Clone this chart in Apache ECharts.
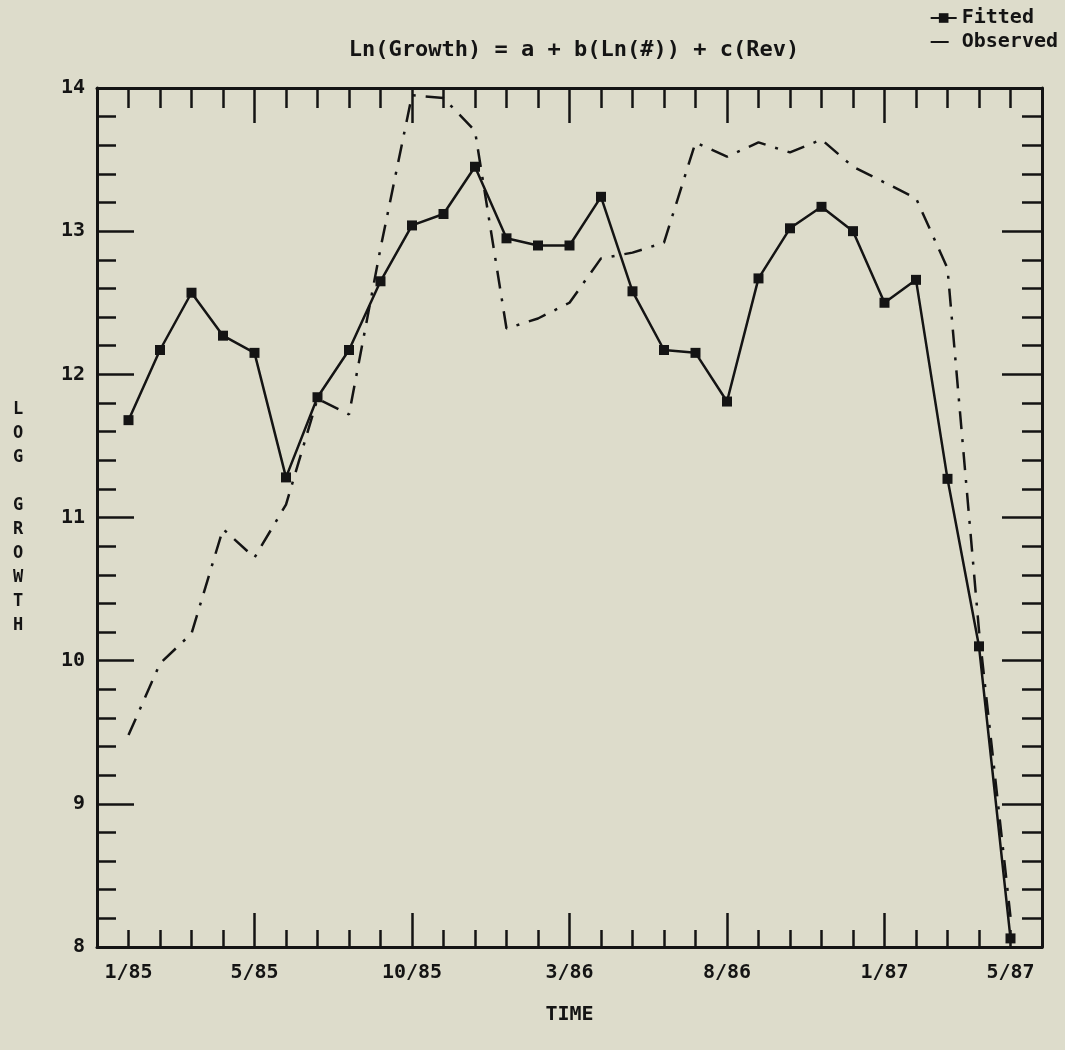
<!DOCTYPE html>
<html>
<head>
<meta charset="utf-8">
<script src="https://cdn.jsdelivr.net/npm/echarts@6/dist/echarts.min.js"></script>
<style>
html,body{margin:0;padding:0;background:#dddccb;}
#chart{width:1065px;height:1050px;}
</style>
</head>
<body>
<div id="chart"></div>
<script>
// Months (index 0 = 1/85 ... index 28 = 5/87)
const months = ['1/85','2/85','3/85','4/85','5/85','6/85','7/85','8/85','9/85','10/85','11/85','12/85',
                '1/86','2/86','3/86','4/86','5/86','6/86','7/86','8/86','9/86','10/86','11/86','12/86',
                '1/87','2/87','3/87','4/87','5/87'];
const tickLabels = ['1/85','5/85','10/85','3/86','8/86','1/87','5/87'];
const fitted = [11.68, 12.17, 12.57, 12.27, 12.15, 11.28, 11.84, 12.17, 12.65, 13.04, 13.12, 13.45,
                12.95, 12.90, 12.90, 13.24, 12.58, 12.17, 12.15, 11.81, 12.67, 13.02, 13.17, 13.00,
                12.50, 12.66, 11.27, 10.10, 8.06];
const observed = [9.48, 9.98, 10.19, 10.92, 10.72, 11.09, 11.83, 11.72, 12.88, 13.95, 13.93, 13.70,
                  12.32, 12.39, 12.50, 12.81, 12.85, 12.92, 13.62, 13.52, 13.62, 13.55, 13.64, 13.45,
                  13.34, 13.23, 12.74, 10.21, 8.21];
const titleText = 'Ln(Growth) = a + b(Ln(#)) + c(Rev)';
const yName = 'LOG GROWTH';
const xName = 'TIME';

const FONT = '"DejaVu Sans Mono", monospace';
const INK = '#141414';
const chart = echarts.init(document.getElementById('chart'), null, {renderer:'canvas'});

function xAx(pos, interval, len, showLine, showLabel) {
  return {
    type:'value', position:pos, min:-1, max:29, interval:interval,
    splitLine:{show:false},
    axisLine:{show:showLine, onZero:false, lineStyle:{color:INK, width:3}},
    axisTick:{show:true, inside:true, length:len, lineStyle:{color:INK, width:2.5}},
    axisLabel:{show:showLabel, margin:16, color:INK, fontFamily:FONT, fontWeight:'bold', fontSize:20,
      formatter:function(v){ const m = months[Math.round(v)]; return (m && tickLabels.indexOf(m) >= 0) ? m : ''; }},
    name: showLabel ? xName : '', nameLocation:'middle', nameGap:58,
    nameTextStyle:{color:INK, fontFamily:FONT, fontWeight:'bold', fontSize:20}
  };
}
function yAx(pos, interval, len, showLine, showLabel, withName) {
  return {
    type:'value', position:pos, min:8, max:14, interval:interval,
    splitLine:{show:false},
    axisLine:{show:showLine, onZero:false, lineStyle:{color:INK, width:3}},
    axisTick:{show:true, inside:true, length:len, lineStyle:{color:INK, width:2.5}},
    axisLabel:{show:showLabel, margin:12, color:INK, fontFamily:FONT, fontWeight:'bold', fontSize:20,
      formatter:function(v){ return String(Math.round(v)); }},
    name: withName ? yName.split('').join('\n') : '', nameLocation:'middle', nameRotate:0, nameGap:79,
    nameTextStyle:{color:INK, fontFamily:FONT, fontWeight:'bold', fontSize:17, lineHeight:24, align:'center'}
  };
}

const option = {
  backgroundColor:'#dddccb',
  animation:false,
  title:{text:titleText, left:569, top:34, textAlign:'center',
    textStyle:{color:INK, fontFamily:FONT, fontWeight:'bold', fontSize:22}},
  legend:{
    orient:'vertical', right:2, top:3, itemGap:4, itemWidth:26, itemHeight:12, align:'left',
    textStyle:{color:INK, fontFamily:FONT, fontWeight:'bold', fontSize:20},
    data:[{name:'Fitted'},{name:'Observed', itemStyle:{opacity:0}}]
  },
  grid:{left:97, right:23, top:88, bottom:103, containLabel:false},
  xAxis:[ xAx('bottom',1,17,true,true), xAx('bottom',5,34,false,false),
          xAx('top',1,20,true,false), xAx('top',5,35,false,false) ],
  yAxis:[ yAx('left',0.2,19,true,false,true), yAx('left',1,37,false,true,false),
          yAx('right',0.2,20,true,false,false), yAx('right',1,40,false,false,false) ],
  series:[
    {name:'Fitted', type:'line', xAxisIndex:0, yAxisIndex:0,
     data:fitted.map(function(v,i){return [i,v];}),
     symbol:'rect', symbolSize:10, showSymbol:true,
     itemStyle:{color:INK}, lineStyle:{color:INK, width:2.5}},
    {name:'Observed', type:'line', xAxisIndex:0, yAxisIndex:0,
     data:observed.map(function(v,i){return [i,v];}),
     symbol:'none', showSymbol:false,
     itemStyle:{color:INK}, lineStyle:{color:INK, width:2.5, type:[18,10,3,10]}}
  ]
};
chart.setOption(option);
</script>
</body>
</html>
